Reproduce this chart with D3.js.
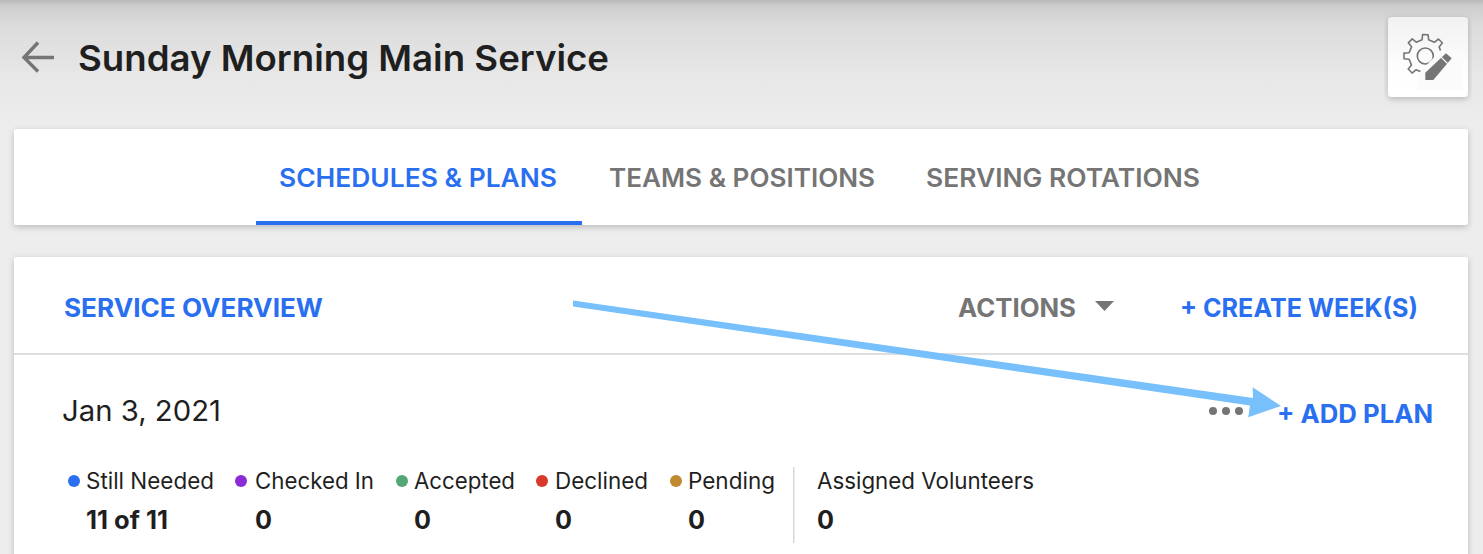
<!DOCTYPE html>
<html><head><meta charset="utf-8">
<script src="https://cdn.jsdelivr.net/npm/d3@7"></script>
<style>html,body{margin:0;padding:0;background:#ededed;overflow:hidden}svg{display:block}text{font-family:Inter,Lato,sans-serif}</style>
</head><body><svg id="c" width="1483" height="554"></svg>
<script>
const title = "Sunday Morning Main Service";
const tabs = ["SCHEDULES & PLANS", "TEAMS & POSITIONS", "SERVING ROTATIONS"];
const dateLabel = "Jan 3, 2021";
const categories = ["Still Needed", "Checked In", "Accepted", "Declined", "Pending"];
const seriesValues = ["11 of 11", 0, 0, 0, 0];
const seriesColors = ["#2a6ff0", "#8a2bd6", "#52a774", "#d9392a", "#c08a30"];
const assignedLabel = "Assigned Volunteers";
const assignedValue = 0;

const BLUE = "#2a6ff0", GREY = "#757575", INK = "#1f1f1f";
const svg = d3.select("#c");
const defs = svg.append("defs");
const bg = defs.append("linearGradient").attr("id","bg").attr("x2",0).attr("y2",1);
[[0,"#b9b9b9"],[.05,"#cdcdcd"],[.2,"#dcdcdc"],[.6,"#e7e7e7"],[1,"#ededed"]].forEach(s=>bg.append("stop").attr("offset",s[0]).attr("stop-color",s[1]));
const btn = defs.append("linearGradient").attr("id","btn").attr("x2",0).attr("y2",1);
[[0,"#f1f1f1"],[.6,"#fdfdfd"],[1,"#ffffff"]].forEach(s=>btn.append("stop").attr("offset",s[0]).attr("stop-color",s[1]));
const sh = defs.append("filter").attr("id","sh").attr("x","-5%").attr("y","-20%").attr("width","110%").attr("height","140%");
sh.append("feDropShadow").attr("dx",0).attr("dy",2).attr("stdDeviation",3).attr("flood-color","#000").attr("flood-opacity",.22);

svg.append("rect").attr("width",1483).attr("height",554).attr("fill","#ededed");
svg.append("rect").attr("width",1483).attr("height",125).attr("fill","url(#bg)");

function txt(s,x,y,size,weight,fill,len){
  const t = svg.append("text").attr("x",x).attr("y",y).attr("font-size",size).attr("font-weight",weight).attr("fill",fill).text(s);
  if(len) t.attr("textLength",len).attr("lengthAdjust","spacingAndGlyphs");
  return t;
}
// cards
svg.append("rect").attr("x",14).attr("y",129).attr("width",1454).attr("height",96).attr("rx",3).attr("fill","#fff").attr("filter","url(#sh)");
svg.append("rect").attr("x",14).attr("y",257).attr("width",1454).attr("height",320).attr("rx",3).attr("fill","#fff").attr("filter","url(#sh)");

// header
const line = d3.line();
svg.append("path").attr("d",line([[54,57.5],[24,57.5]])+line([[38,42.5],[24,57.5],[38,71.5]])).attr("fill","none").attr("stroke",GREY).attr("stroke-width",3.4);
txt(title,78,71,36,600,INK,531);

// settings button
svg.append("rect").attr("x",1388).attr("y",17).attr("width",80).attr("height",80).attr("rx",4).attr("fill","url(#btn)").attr("filter","url(#sh)");
const teeth = 8, gearPts = d3.range(teeth).flatMap(i=>{
  const a = (i+.5)/teeth*2*Math.PI - .39, w = .13, g = .2;
  return [[a-g,16.5],[a-w,21.5],[a+w,21.5],[a+g,16.5]];
});
const gear = d3.lineRadial().angle(d=>d[0]).radius(d=>d[1]).curve(d3.curveLinearClosed)(gearPts);
svg.append("path").attr("d",gear).attr("transform","translate(1425.3,56)").attr("fill","none").attr("stroke",GREY).attr("stroke-width",1.6).attr("stroke-linejoin","round");
svg.append("circle").attr("cx",1425.3).attr("cy",56).attr("r",8).attr("fill","none").attr("stroke",GREY).attr("stroke-width",1.6);
svg.append("path").attr("d",line([[1418,74],[1441,50],[1462,50],[1462,90],[1418,90]])+"Z").attr("fill","#fbfbfb");
svg.append("path").attr("d",line([[1425.3,80],[1425.3,72.7],[1446,53.3],[1451.7,58.3],[1433.3,80]])+"Z").attr("fill",GREY);
svg.append("path").attr("d",line([[1441.5,57.5],[1447.5,63.5]])).attr("stroke","#fbfbfb").attr("stroke-width",1.1);

// tabs
const tabX = [279,609,926], tabW = [278,266,274];
tabs.forEach((t,i)=>txt(t,tabX[i],187,25,600,i?GREY:BLUE,tabW[i]));
svg.append("rect").attr("x",256).attr("y",221).attr("width",326).attr("height",4).attr("fill",BLUE);

// overview row
txt("SERVICE OVERVIEW",64,317,25,700,BLUE,259);
txt("ACTIONS",958,317,25,700,GREY,118);
svg.append("path").attr("d",line([[1095,301],[1114,301],[1104.5,311]])+"Z").attr("fill",GREY);
txt("+ CREATE WEEK(S)",1180,317,25,700,BLUE,238);
svg.append("rect").attr("x",14).attr("y",353).attr("width",1454).attr("height",2).attr("fill","#dedede");

// date row
txt(dateLabel,62,421,29,400,INK,159);
[1213,1226,1239].forEach(x=>svg.append("circle").attr("cx",x).attr("cy",411).attr("r",4).attr("fill",GREY));
txt("+ ADD PLAN",1277,423,25,700,BLUE,156);

// legend
const labelX = d3.scaleOrdinal().domain(categories).range([86,255,414,555,688]);
const dotX = d3.scaleOrdinal().domain(categories).range([74,241,402,542,676]);
const labelW = d3.scaleOrdinal().domain(categories).range([128,119,101,93,87]);
categories.forEach((c,i)=>{
  svg.append("circle").attr("cx",dotX(c)).attr("cy",481).attr("r",6).attr("fill",seriesColors[i]);
  txt(c,labelX(c),489,22.5,400,INK,labelW(c));
  txt(String(seriesValues[i]),labelX(c),529,25,700,INK,i===0?82:17);
});
svg.append("rect").attr("x",793).attr("y",467).attr("width",1.5).attr("height",76).attr("fill","#d8d8d8");
txt(assignedLabel,817,489,22.5,400,INK,217);
txt(String(assignedValue),817,529,25,700,INK,17);

// annotation arrow
svg.append("path").attr("d",line([[573,300.5],[1253,398],[1252.7,387.3],[1281,406],[1248.3,417.3],[1250,405.5],[573,306.5]])+"Z").attr("fill","#77c0fb");
</script></body></html>
